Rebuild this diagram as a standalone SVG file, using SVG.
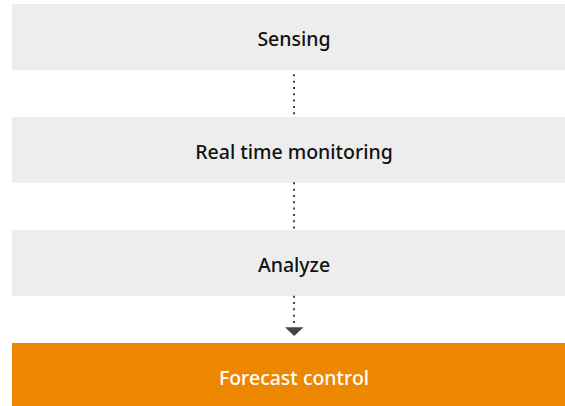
<svg xmlns="http://www.w3.org/2000/svg" width="565" height="406" viewBox="0 0 565 406">
<style>
.box{fill:#ededed}
.hl{fill:#ee8700}
.t{font-family:"Noto Sans","Open Sans",sans-serif;font-size:19.5px;font-weight:500;text-anchor:middle;fill:#111}
.tw{fill:#fff}
.c{stroke:#444;stroke-width:2;stroke-dasharray:2 4.33;fill:none}
</style>
<g id="n1"><rect class="box" x="12" y="4" width="553" height="66"/><text class="t" x="294" y="46">Sensing</text></g>
<g id="n2"><rect class="box" x="12" y="117" width="553" height="66"/><text class="t" x="294" y="159">Real time monitoring</text></g>
<g id="n3"><rect class="box" x="12" y="230" width="553" height="66"/><text class="t" x="294" y="272">Analyze</text></g>
<g id="n4"><rect class="hl" x="12" y="343" width="553" height="63"/><text class="t tw" x="294" y="385">Forecast control</text></g>
<g id="connectors">
<line class="c" x1="294" y1="74.3" x2="294" y2="116"/>
<line class="c" x1="294" y1="182.3" x2="294" y2="229"/>
<line class="c" x1="294" y1="295.7" x2="294" y2="325"/>
<polygon points="285,327.3 303.5,327.3 294.2,336" fill="#444"/>
</g>
</svg>
